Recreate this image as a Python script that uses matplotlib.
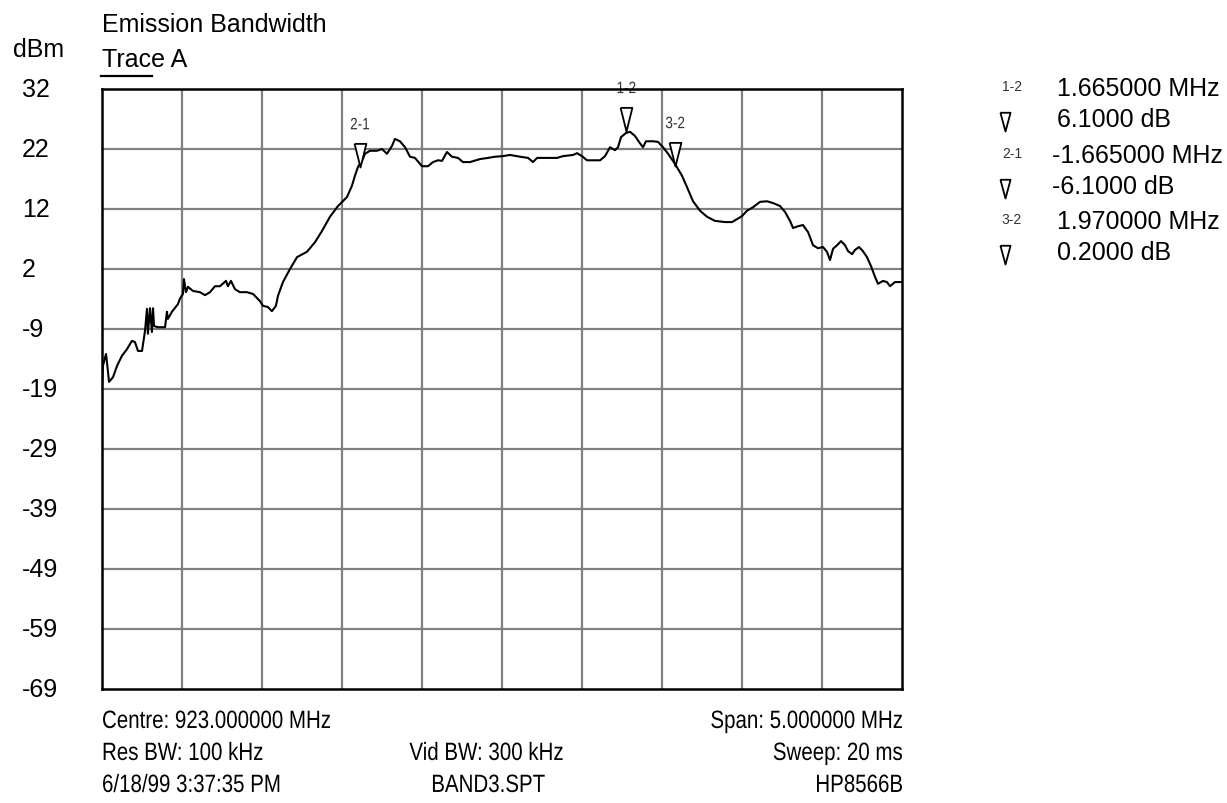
import numpy as np
import matplotlib
matplotlib.use("Agg")
import matplotlib.pyplot as plt
from matplotlib import font_manager
from matplotlib.font_manager import FontProperties
from matplotlib.textpath import TextPath
from matplotlib.patches import PathPatch
from matplotlib.transforms import Affine2D
from matplotlib.lines import Line2D

# spectrum analyser trace
centre_mhz = 923.0
span_mhz = 5.0
offset_mhz = [
    -2.5, -2.494, -2.475, -2.469, -2.456, -2.431, -2.406, -2.375, -2.344, -2.313,
    -2.294, -2.275, -2.25, -2.231, -2.219, -2.213, -2.2, -2.188, -2.181, -2.175,
    -2.15, -2.106, -2.094, -2.088, -2.063, -2.025, -2.013, -1.994, -1.988, -1.975,
    -1.963, -1.931, -1.888, -1.856, -1.825, -1.794, -1.763, -1.725, -1.713, -1.694,
    -1.669, -1.638, -1.594, -1.556, -1.513, -1.494, -1.463, -1.438, -1.413, -1.4,
    -1.369, -1.325, -1.281, -1.219, -1.169, -1.125, -1.075, -1.025, -0.969, -0.938,
    -0.919, -0.9, -0.875, -0.856, -0.825, -0.781, -0.75, -0.719, -0.688, -0.669,
    -0.638, -0.606, -0.575, -0.544, -0.5, -0.463, -0.431, -0.4, -0.375, -0.344,
    -0.313, -0.275, -0.244, -0.2, -0.138, -0.088, -0.044, 0.006, 0.05, 0.113,
    0.163, 0.194, 0.219, 0.281, 0.344, 0.381, 0.444, 0.469, 0.5, 0.531,
    0.569, 0.613, 0.644, 0.675, 0.706, 0.725, 0.744, 0.775, 0.8, 0.831,
    0.856, 0.881, 0.9, 0.944, 0.975, 1.006, 1.038, 1.081, 1.125, 1.156,
    1.194, 1.238, 1.281, 1.331, 1.394, 1.438, 1.469, 1.5, 1.531, 1.569,
    1.613, 1.656, 1.694, 1.738, 1.769, 1.8, 1.819, 1.85, 1.881, 1.913,
    1.944, 1.975, 2.006, 2.031, 2.05, 2.069, 2.094, 2.119, 2.144, 2.163,
    2.188, 2.206, 2.231, 2.256, 2.281, 2.306, 2.331, 2.35, 2.381, 2.406,
    2.425, 2.456, 2.488, 2.5,
]
level_dbm = [
    -18.0, -14.6, -12.6, -14.0, -17.3, -16.5, -14.6, -12.9, -11.8, -10.4,
    -10.6, -12.1, -12.1, -8.7, -5.0, -9.2, -4.9, -8.9, -4.9, -7.9,
    -8.1, -8.1, -5.5, -6.7, -5.5, -4.2, -3.3, -2.5, 0.0, -2.2,
    -1.3, -2.0, -2.2, -2.7, -2.2, -1.2, -1.2, -0.3, -1.2, -0.3,
    -1.7, -2.2, -2.2, -2.5, -3.7, -4.5, -4.7, -5.4, -4.5, -2.8,
    -0.5, 1.7, 3.7, 4.6, 6.2, 8.1, 10.5, 12.3, 13.8, 15.7,
    17.4, 18.9, 19.9, 21.1, 21.6, 21.6, 21.9, 21.1, 22.4, 23.6,
    23.2, 22.2, 20.6, 20.4, 19.0, 19.0, 19.7, 20.0, 19.9, 21.4,
    20.6, 20.4, 19.7, 19.7, 20.2, 20.4, 20.6, 20.7, 20.9, 20.6,
    20.4, 19.7, 20.4, 20.4, 20.4, 20.7, 20.9, 21.2, 20.7, 20.0,
    20.0, 20.0, 20.7, 22.2, 21.7, 22.2, 23.9, 24.6, 24.8, 24.1,
    23.1, 22.2, 23.2, 23.2, 23.1, 22.2, 21.1, 19.4, 17.4, 15.5,
    13.1, 11.5, 10.5, 9.8, 9.6, 9.6, 10.1, 10.6, 11.5, 12.1,
    13.0, 13.1, 12.8, 12.3, 11.3, 9.8, 8.6, 8.9, 9.1, 7.9,
    5.7, 5.2, 5.4, 4.6, 3.2, 5.1, 5.7, 6.4, 5.7, 4.7,
    4.2, 4.9, 5.4, 4.7, 3.7, 2.2, 0.4, -0.8, -0.3, -0.5,
    -1.2, -0.5, -0.5, -0.5,
]

# markers: label, offset from centre (MHz), level (dBm)
marker_names = ["2-1", "1-2", "3-2"]
marker_offsets = [-0.89, 0.775, 1.08]
marker_levels = [18.8, 24.9, 19.0]

# marker readout on the right
readout_names = ["1-2", "2-1", "3-2"]
readout_freq = ["1.665000 MHz", "-1.665000 MHz", "1.970000 MHz"]
readout_delta = ["6.1000 dB", "-6.1000 dB", "0.2000 dB"]

ytick_labels = ["32", "22", "12", "2", "-9", "-19", "-29", "-39", "-49", "-59", "-69"]
y_top, y_bottom = 32.0, -69.0

names = {f.name for f in font_manager.fontManager.ttflist}
main_font = "Liberation Sans" if "Liberation Sans" in names else "DejaVu Sans"
plt.rcParams["font.family"] = main_font
fprop = FontProperties(family=main_font)

W, H = 1227, 804
fig = plt.figure(figsize=(W / 100, H / 100), dpi=100)
ax = fig.add_axes([102 / W, 1 - 690 / H, 800 / W, 600 / H])


def narrow(px, py, s, size=25, ha="left", sx=0.82, color="black", target=None, z=3):
    # squeezed text (like Arial Narrow) drawn as a path, in pixel coords
    tp = TextPath((0, 0), s, size=size, prop=fprop)
    ext = tp.get_extents()
    w = ext.x1 * sx
    if ha == "center":
        x = px - w / 2
    elif ha == "right":
        x = px - w
    else:
        x = px
    y = (H - py) - 0.358 * size
    patch = PathPatch(tp, transform=Affine2D().scale(sx, 1).translate(x, y),
                      facecolor=color, edgecolor="none", lw=0, zorder=z)
    (target or fig).add_artist(patch)
    patch.set_clip_on(False)


def ftext(px, py, s, **kw):
    kw.setdefault("fontsize", 18)
    fig.text(px / W, 1 - py / H, s, va="center", **kw)


freq = centre_mhz + np.array(offset_mhz)
x0, x1 = centre_mhz - span_mhz / 2, centre_mhz + span_mhz / 2
ax.set_xlim(x0, x1)
ax.set_ylim(y_bottom, y_top)

xgrid = np.linspace(x0, x1, 11)
ygrid = np.linspace(y_top, y_bottom, 11)
for xv in xgrid[1:-1]:
    ax.axvline(xv, color="#808080", lw=1.6, zorder=1)
for yv in ygrid[1:-1]:
    ax.axhline(yv, color="#808080", lw=1.6, zorder=1)

ax.plot(freq, level_dbm, color="black", lw=1.5, zorder=3)

tri = [(-0.25, 1.0), (0.25, 1.0), (0.0, 0.0), (-0.25, 1.0)]
for name, off, lev in zip(marker_names, marker_offsets, marker_levels):
    ax.plot([centre_mhz + off], [lev], marker=tri, ms=34, mfc="white",
            mec="black", mew=1.3, zorder=4, clip_on=False)
    mx, my = ax.transData.transform((centre_mhz + off, lev))
    narrow(mx, H - my - 44, name, size=16.5, ha="center", color="#333333",
           target=ax, z=0.5)

ax.set_xticks([])
ax.set_yticks([])
for s in ax.spines.values():
    s.set_linewidth(1.8)
    s.set_zorder(5)

# y labels, left aligned at x=22
for lab, yv in zip(ytick_labels, ygrid):
    py = H - ax.transData.transform((x0, yv))[1]
    ftext(22, py, lab, ha="left")

ftext(13, 50, "dBm")
ftext(102, 25, "Emission Bandwidth")
ftext(102, 60, "Trace A")
fig.add_artist(Line2D([101 / W, 152 / W], [1 - 77 / H, 1 - 77 / H],
                      color="black", lw=1.6))

narrow(102, 720, "Centre: 923.000000 MHz", ha="left")
narrow(902, 720, "Span: 5.000000 MHz", ha="right")
narrow(102, 752, "Res BW: 100 kHz", ha="left")
narrow(486, 752, "Vid BW: 300 kHz", ha="center")
narrow(902, 752, "Sweep: 20 ms", ha="right")
narrow(102, 784, "6/18/99 3:37:35 PM", ha="left")
narrow(488, 784, "BAND3.SPT", ha="center")
narrow(902, 784, "HP8566B", ha="right")

tri_small = [(-0.27, 1.0), (0.27, 1.0), (0.0, 0.0), (-0.27, 1.0)]
row_y = [89, 156, 222]
for y, n, f, d in zip(row_y, readout_names, readout_freq, readout_delta):
    ftext(1012, y - 2, n, ha="center", fontsize=10, color="#333333")
    ftext(1057 if not f.startswith("-") else 1052, y, f, ha="left")
    fig.add_artist(Line2D([1005 / W], [1 - (y + 43) / H], marker=tri_small,
                          ms=27, mfc="white", mec="black", mew=1.3,
                          transform=fig.transFigure))
    ftext(1057 if not d.startswith("-") else 1052, y + 31, d, ha="left")

fig.savefig("out.png", dpi=100)
